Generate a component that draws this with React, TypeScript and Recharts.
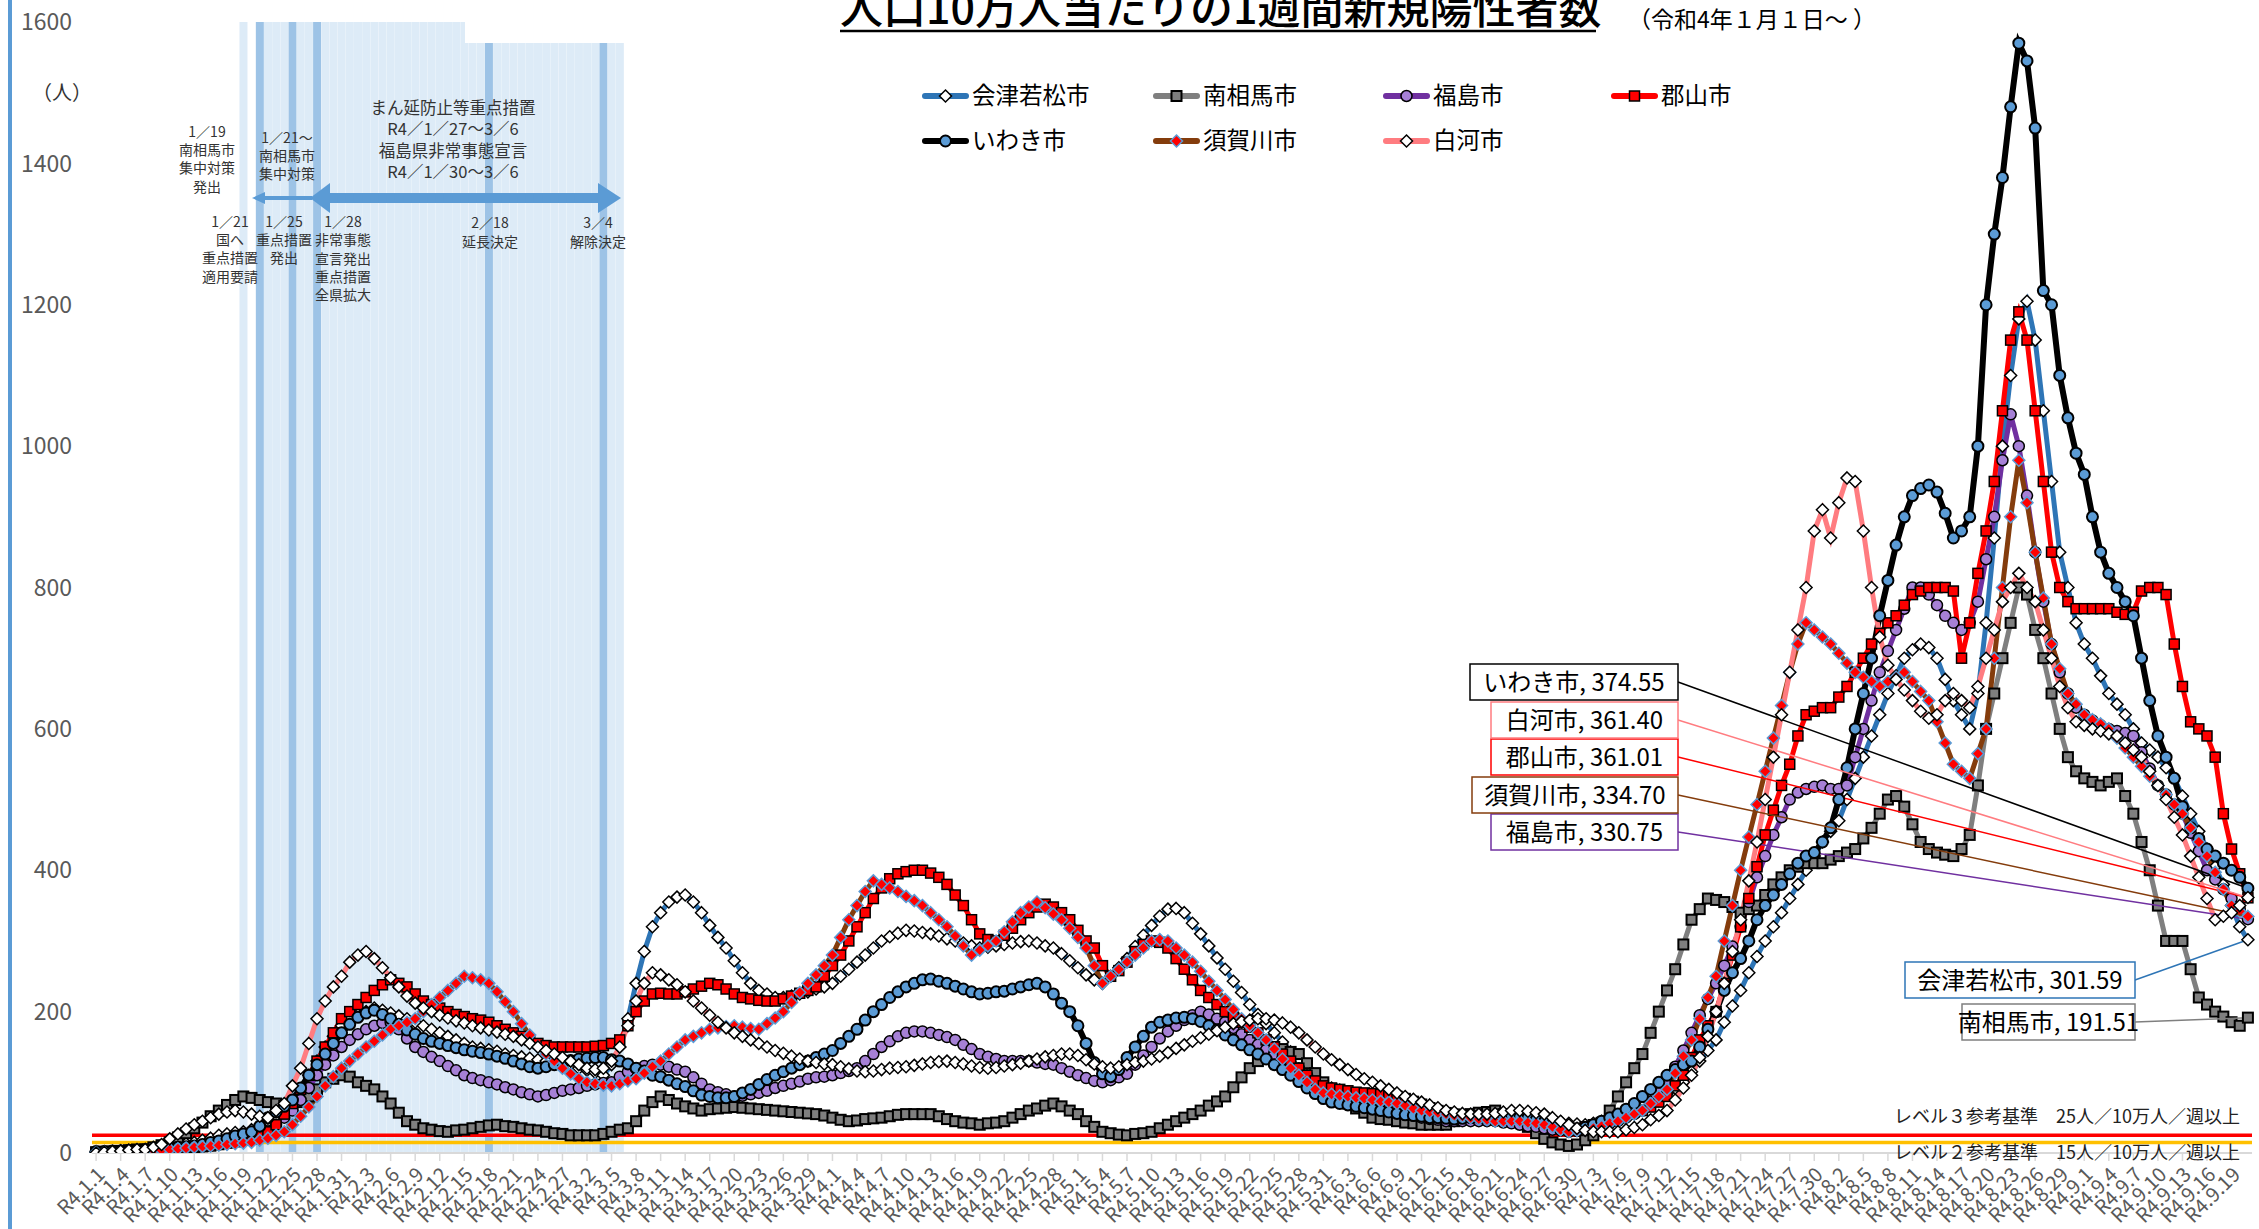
import React from "react";
import { ComposedChart, Bar, Cell, Line, XAxis, YAxis, ReferenceLine } from "recharts";

// 日付カテゴリ（R4.1.1 〜 R4.9.21、1日ごと）
const monthLengths = [31, 28, 31, 30, 31, 30, 31, 31, 21];
const dates: string[] = monthLengths.flatMap((n, m) =>
  Array.from({ length: n }, (_, d) => `R4.${m + 1}.${d + 1}`)
);

const yTicks = [0, 200, 400, 600, 800, 1000, 1200, 1400, 1600];

// 人口10万人当たりの1週間新規陽性者数（月ごとに改行）
const aizu = [
  2, 2, 2, 3, 3, 4, 5, 6, 7, 8, 10, 13, 15, 18, 21, 25, 27, 29, 30, 33, 36, 40, 50, 60, 70, 90, 110, 130, 150, 165, 180,
  190, 196, 200, 205, 202, 198, 194, 190, 185, 180, 175, 170, 165, 160, 155, 150, 148, 146, 144, 140, 138, 136, 134, 132, 130, 128, 126, 125,
  120, 117, 114, 110, 125, 150, 190, 240, 285, 320, 340, 355, 362, 365, 355, 340, 322, 305, 290, 272, 255, 240, 230, 225, 220, 220, 222, 225, 228, 232, 235,
  240, 250, 260, 270, 280, 290, 300, 306, 311, 315, 314, 312, 310, 307, 303, 300, 297, 293, 290, 291, 293, 295, 297, 299, 300, 297, 293, 290, 282, 272,
  262, 252, 245, 240, 250, 262, 275, 292, 308, 322, 335, 345, 346, 340, 325, 310, 293, 276, 260, 243, 227, 210, 196, 183, 170, 157, 143, 130, 118, 106, 95,
  92, 89, 86, 83, 80, 77, 75, 72, 70, 66, 62, 58, 55, 54, 53, 51, 50, 50, 50, 50, 50, 50, 51, 51, 50, 48, 47, 45, 44, 42,
  41, 40, 42, 45, 48, 50, 55, 60, 65, 70, 77, 84, 92, 100, 115, 130, 145, 160, 185, 208, 230, 255, 278, 300, 320, 340, 360, 380, 400, 420, 440,
  455, 470, 500, 530, 560, 590, 620, 650, 675, 700, 712, 720, 715, 700, 670, 640, 620, 600, 650, 750, 870, 1000, 1100, 1180, 1205, 1150, 1050, 950, 850, 800, 750,
  720, 700, 675, 650, 635, 620, 600, 580, 570, 560, 545, 530, 505, 480, 455, 430, 405, 380, 350, 320, 301.59,
];

const minamisoma = [
  1, 2, 2, 3, 4, 5, 5, 8, 11, 15, 22, 28, 35, 43, 52, 60, 68, 75, 80, 78, 75, 72, 70, 67, 65, 72, 80, 90, 100, 105, 110,
  108, 100, 95, 90, 80, 70, 57, 45, 40, 35, 33, 31, 30, 32, 33, 35, 37, 39, 40, 38, 37, 35, 33, 32, 30, 28, 27, 25,
  25, 25, 25, 27, 30, 33, 35, 45, 60, 72, 80, 75, 70, 66, 63, 60, 62, 63, 64, 65, 64, 63, 62, 61, 60, 59, 58, 57, 56, 55, 53,
  50, 47, 45, 46, 48, 49, 50, 52, 54, 55, 55, 55, 55, 52, 48, 45, 43, 42, 40, 42, 43, 45, 50, 55, 60, 63, 67, 70, 66, 60,
  55, 45, 37, 30, 28, 26, 25, 27, 28, 30, 35, 40, 45, 50, 55, 60, 67, 73, 80, 93, 107, 120, 130, 140, 150, 147, 143, 140, 127, 113, 100,
  90, 80, 70, 63, 57, 50, 48, 47, 45, 43, 42, 40, 40, 40, 40, 45, 50, 55, 57, 58, 60, 55, 50, 45, 37, 28, 20, 15, 12, 10,
  12, 18, 25, 42, 60, 80, 100, 120, 140, 170, 200, 230, 260, 295, 330, 345, 360, 358, 355, 348, 340, 345, 350, 365, 380, 390, 400, 405, 410, 410, 410,
  415, 420, 425, 430, 445, 460, 480, 500, 505, 490, 465, 440, 430, 425, 422, 420, 430, 450, 520, 600, 650, 700, 750, 800, 790, 740, 700, 650, 600, 560, 540,
  530, 525, 520, 525, 530, 505, 480, 440, 400, 350, 300, 300, 300, 260, 220, 210, 200, 193, 185, 180, 191.51,
];

const fukushima = [
  1, 1, 1, 2, 2, 2, 3, 3, 4, 5, 6, 7, 8, 9, 10, 12, 14, 16, 18, 20, 25, 32, 40, 50, 60, 75, 92, 110, 125, 138, 150,
  160, 168, 175, 180, 184, 185, 175, 162, 150, 143, 136, 130, 123, 117, 110, 106, 103, 100, 97, 93, 90, 86, 83, 80, 82, 85, 88, 90,
  92, 95, 97, 99, 100, 108, 115, 120, 123, 125, 125, 122, 118, 115, 107, 98, 90, 86, 83, 80, 81, 83, 85, 88, 92, 95, 98, 101, 105, 107, 108,
  110, 113, 116, 120, 130, 140, 150, 158, 165, 170, 172, 172, 170, 167, 164, 160, 153, 147, 140, 136, 133, 130, 130, 130, 130, 128, 126, 125, 120, 115,
  110, 106, 102, 100, 103, 107, 112, 125, 138, 150, 162, 172, 180, 188, 195, 200, 196, 190, 185, 177, 168, 160, 153, 146, 140, 133, 127, 120, 110, 100, 90,
  83, 77, 70, 68, 66, 65, 63, 62, 60, 57, 53, 50, 48, 47, 45, 45, 45, 45, 45, 45, 45, 43, 42, 40, 38, 37, 35, 33, 32, 30,
  31, 33, 35, 38, 42, 45, 50, 55, 60, 72, 85, 100, 122, 145, 170, 195, 218, 240, 265, 292, 320, 355, 390, 420, 450, 475, 500, 510, 515, 518, 520,
  515, 515, 520, 560, 600, 640, 680, 710, 740, 770, 800, 800, 790, 775, 760, 750, 740, 750, 780, 840, 900, 980, 1045, 1000, 930, 850, 780, 720, 680, 650, 630,
  620, 612, 605, 600, 597, 594, 590, 567, 544, 520, 507, 493, 480, 453, 427, 400, 387, 373, 360, 345, 330.75,
];

const koriyama = [
  1, 1, 2, 2, 2, 3, 3, 4, 4, 5, 6, 7, 8, 9, 10, 12, 14, 16, 18, 20, 25, 30, 40, 55, 70, 90, 110, 130, 150, 170, 190,
  200, 210, 220, 230, 238, 245, 240, 235, 225, 215, 210, 205, 200, 196, 193, 190, 188, 185, 180, 175, 170, 165, 160, 155, 152, 150, 150, 150,
  150, 150, 151, 152, 155, 160, 180, 200, 215, 225, 226, 225, 225, 228, 232, 236, 240, 238, 232, 225, 220, 218, 216, 215, 215, 218, 222, 226, 230, 235, 250,
  265, 280, 300, 320, 340, 360, 375, 388, 395, 398, 400, 400, 396, 390, 380, 365, 350, 330, 310, 302, 300, 308, 318, 330, 340, 348, 352, 348, 340, 330,
  315, 300, 290, 265, 250, 258, 270, 285, 295, 300, 298, 290, 275, 260, 245, 230, 220, 210, 200, 192, 185, 178, 170, 160, 150, 140, 130, 120, 110, 102, 95,
  92, 90, 88, 86, 85, 84, 83, 82, 80, 77, 73, 69, 64, 60, 57, 55, 53, 52, 51, 50, 50, 50, 50, 50, 50, 48, 45, 42, 38, 35,
  35, 37, 40, 43, 46, 50, 54, 58, 60, 65, 72, 80, 95, 110, 135, 160, 180, 200, 240, 280, 320, 360, 405, 450, 485, 520, 550, 590, 620, 625, 630,
  630, 645, 660, 680, 700, 720, 735, 750, 760, 775, 790, 795, 800, 800, 800, 795, 700, 750, 820, 880, 950, 1050, 1150, 1190, 1150, 1050, 950, 850, 800, 780, 770,
  770, 770, 770, 770, 765, 762, 765, 795, 800, 800, 790, 720, 660, 610, 600, 590, 560, 480, 430, 395, 361.01,
];

const iwaki = [
  2, 2, 3, 3, 4, 4, 5, 5, 6, 7, 8, 9, 10, 12, 15, 17, 20, 24, 27, 30, 38, 50, 58, 66, 75, 92, 110, 125, 140, 155, 170,
  182, 192, 198, 202, 196, 190, 182, 174, 168, 162, 158, 155, 152, 149, 146, 144, 142, 140, 137, 134, 130, 126, 122, 120, 122, 125, 128, 131,
  133, 134, 135, 135, 132, 130, 126, 120, 116, 110, 108, 103, 98, 94, 88, 82, 80, 78, 78, 80, 85, 90, 97, 104, 110, 115, 120, 125, 130, 135, 140,
  145, 155, 165, 175, 188, 200, 210, 220, 228, 235, 240, 245, 246, 243, 240, 236, 232, 228, 225, 226, 228, 229, 232, 235, 238, 240, 235, 225, 212, 200,
  180, 155, 128, 112, 108, 118, 135, 150, 165, 178, 185, 188, 191, 192, 190, 186, 180, 174, 167, 160, 153, 146, 140, 133, 125, 118, 110, 101, 92, 84, 77,
  72, 70, 68, 66, 64, 62, 60, 58, 56, 54, 53, 52, 50, 50, 49, 48, 49, 50, 50, 51, 51, 52, 52, 51, 50, 47, 44, 41, 38, 35,
  34, 36, 40, 45, 50, 55, 62, 70, 80, 90, 100, 110, 118, 125, 130, 150, 175, 200, 230, 255, 275, 300, 330, 350, 365, 380, 395, 410, 420, 425, 440,
  460, 500, 545, 600, 650, 700, 760, 810, 860, 900, 930, 940, 945, 935, 905, 870, 880, 900, 1000, 1200, 1300, 1380, 1480, 1570, 1545, 1450, 1220, 1200, 1100, 1040, 990,
  960, 900, 850, 820, 800, 780, 760, 700, 640, 590, 560, 530, 490, 460, 445, 430, 420, 410, 400, 390, 374.55,
];

const sukagawa = [
  1, 1, 1, 2, 2, 3, 3, 4, 4, 5, 6, 7, 8, 9, 10, 11, 12, 13, 14, 15, 18, 21, 25, 30, 40, 52, 65, 80, 95, 108, 120,
  130, 140, 150, 158, 167, 175, 180, 185, 190, 200, 210, 220, 230, 240, 250, 248, 245, 240, 228, 214, 200, 183, 167, 150, 140, 130, 120, 112,
  105, 100, 98, 96, 95, 98, 102, 105, 113, 122, 130, 140, 150, 160, 165, 170, 175, 177, 179, 180, 178, 176, 175, 183, 191, 200, 213, 227, 240, 252, 265,
  280, 305, 330, 350, 370, 385, 380, 375, 370, 363, 357, 350, 340, 330, 320, 307, 293, 280, 287, 293, 300, 313, 327, 340, 348, 355, 347, 338, 330, 318,
  305, 290, 265, 240, 250, 260, 270, 280, 290, 300, 302, 300, 290, 280, 270, 257, 243, 230, 217, 203, 190, 180, 170, 160, 147, 133, 120, 110, 100, 90, 85,
  83, 81, 80, 78, 77, 75, 73, 72, 70, 67, 63, 60, 58, 57, 55, 53, 52, 50, 48, 47, 45, 45, 45, 45, 43, 42, 40, 37, 33, 30,
  32, 33, 35, 38, 42, 45, 50, 55, 60, 70, 80, 90, 113, 137, 160, 190, 220, 250, 300, 350, 400, 447, 493, 540, 587, 633, 680, 720, 750, 740, 730,
  720, 707, 693, 680, 673, 667, 660, 667, 673, 680, 667, 653, 640, 610, 580, 550, 540, 530, 565, 600, 700, 800, 900, 980, 920, 850, 785, 720, 685, 650, 635,
  620, 613, 607, 600, 587, 573, 560, 547, 533, 520, 507, 493, 480, 460, 440, 420, 397, 373, 350, 342, 334.7,
];

const shirakawa = [
  0, 1, 2, 3, 4, 5, 5, 8, 12, 20, 27, 34, 40, 45, 50, 55, 58, 60, 58, 55, 52, 50, 60, 70, 95, 120, 155, 190, 215, 235, 250,
  270, 280, 285, 275, 262, 248, 235, 222, 212, 205, 200, 195, 191, 187, 184, 180, 177, 174, 171, 168, 165, 160, 155, 150, 145, 140, 135, 130,
  125, 120, 118, 120, 130, 150, 180, 215, 240, 255, 252, 245, 238, 228, 215, 205, 195, 185, 177, 170, 165, 160, 155, 150, 145, 141, 137, 133, 130, 128, 126,
  125, 122, 119, 116, 115, 116, 118, 120, 121, 122, 124, 126, 128, 129, 130, 128, 126, 123, 121, 120, 121, 123, 125, 127, 130, 133, 136, 138, 140, 140,
  138, 132, 126, 122, 120, 122, 125, 128, 130, 133, 137, 142, 148, 153, 158, 163, 168, 173, 178, 183, 186, 188, 190, 190, 188, 184, 178, 170, 160, 150, 140,
  132, 125, 118, 111, 105, 100, 95, 90, 85, 80, 76, 72, 68, 64, 60, 58, 56, 55, 55, 55, 56, 58, 60, 60, 59, 57, 55, 50, 45, 40,
  35, 32, 30, 30, 30, 30, 33, 36, 40, 47, 53, 60, 75, 92, 110, 135, 165, 200, 240, 285, 330, 385, 440, 500, 560, 620, 680, 740, 800, 880, 910,
  870, 920, 955, 950, 880, 800, 730, 690, 670, 655, 640, 625, 615, 620, 640, 650, 640, 630, 660, 700, 740, 780, 800, 820, 800, 780, 740, 700, 660, 630, 610,
  605, 600, 597, 593, 590, 580, 570, 560, 540, 520, 500, 475, 450, 420, 390, 360, 330, 335, 340, 350, 361.4,
];

// まん延防止等重点措置・非常事態宣言の期間と節目の日
const shadePeriods = [
  ["R4.1.19", "R4.1.19"],
  ["R4.1.21", "R4.3.6"],
];
const decisionDays = ["R4.1.21", "R4.1.25", "R4.1.28", "R4.2.18", "R4.3.4"];
const shadeTop = 1600;

const level3 = 25;
const level2 = 15;

type Marker = { shape: "diamond" | "square" | "circle"; size: number; fill: string; stroke: string; sw: number };
type Series = {
  key: string;
  name: string;
  values: number[];
  color: string;
  width: number;
  marker: Marker;
  tag: { x: number; y: number; w: number };
};

const series: Series[] = [
  { key: "aizu", name: "会津若松市", values: aizu, color: "#2E75B6", width: 5,
    marker: { shape: "diamond", size: 12, fill: "#FFFFFF", stroke: "#000000", sw: 1.5 }, tag: { x: 1905, y: 962, w: 230 } },
  { key: "minamisoma", name: "南相馬市", values: minamisoma, color: "#7F7F7F", width: 5,
    marker: { shape: "square", size: 10, fill: "#7F7F7F", stroke: "#000000", sw: 2 }, tag: { x: 1962, y: 1004, w: 173 } },
  { key: "fukushima", name: "福島市", values: fukushima, color: "#7030A0", width: 5,
    marker: { shape: "circle", size: 11, fill: "#A680D6", stroke: "#000000", sw: 1.5 }, tag: { x: 1491, y: 814, w: 187 } },
  { key: "koriyama", name: "郡山市", values: koriyama, color: "#FF0000", width: 5,
    marker: { shape: "square", size: 10, fill: "#FF0000", stroke: "#000000", sw: 1.5 }, tag: { x: 1491, y: 739, w: 187 } },
  { key: "iwaki", name: "いわき市", values: iwaki, color: "#000000", width: 6,
    marker: { shape: "circle", size: 11, fill: "#5B9BD5", stroke: "#000000", sw: 2 }, tag: { x: 1470, y: 664, w: 208 } },
  { key: "sukagawa", name: "須賀川市", values: sukagawa, color: "#843C0C", width: 5,
    marker: { shape: "diamond", size: 12, fill: "#FF0000", stroke: "#5B9BD5", sw: 1.5 }, tag: { x: 1472, y: 777, w: 206 } },
  { key: "shirakawa", name: "白河市", values: shirakawa, color: "#FF7C80", width: 5,
    marker: { shape: "diamond", size: 12, fill: "#FFFFFF", stroke: "#000000", sw: 1.5 }, tag: { x: 1491, y: 702, w: 187 } },
];

const rows = dates.map((date, i) => {
  const shaded = shadePeriods.some(([a, b]) => i >= dates.indexOf(a) && i <= dates.indexOf(b));
  const row: Record<string, any> = { date, shade: shaded ? shadeTop : null, mark: decisionDays.includes(date) };
  series.forEach((s) => (row[s.key] = s.values[i]));
  return row;
});

const FONT = '"Noto Sans CJK JP", "Noto Sans", sans-serif';
const W = 2259;
const H = 1229;
const last = dates.length - 1;

function markerShape(cx: number, cy: number, m: Marker) {
  const r = m.size / 2;
  if (m.shape === "diamond")
    return <path d={`M${cx},${cy - r}L${cx + r},${cy}L${cx},${cy + r}L${cx - r},${cy}Z`} fill={m.fill} stroke={m.stroke} strokeWidth={m.sw} />;
  if (m.shape === "square")
    return <rect x={cx - r} y={cy - r} width={m.size} height={m.size} fill={m.fill} stroke={m.stroke} strokeWidth={m.sw} />;
  return <circle cx={cx} cy={cy} r={r} fill={m.fill} stroke={m.stroke} strokeWidth={m.sw} />;
}

const makeDot = (s: Series) => (p: any) => {
  const { cx, cy, index } = p;
  if (cx == null || cy == null) return <g key={`${s.key}-${index}`} />;
  const t = s.tag;
  const h = 36;
  return (
    <g key={`${s.key}-${index}`}>
      {index === last && (
        <g>
          <line x1={t.x + t.w} y1={t.y + h / 2} x2={cx} y2={cy} stroke={s.color} strokeWidth={1.5} />
          <rect x={t.x} y={t.y} width={t.w} height={h} fill="#FFFFFF" stroke={s.color} strokeWidth={1.5} />
          <text x={t.x + t.w / 2} y={t.y + h / 2} dy="0.36em" textAnchor="middle" fontSize={24} fill="#000" fontFamily={FONT}>
            {`${s.name}, ${s.values[last].toFixed(2)}`}
          </text>
        </g>
      )}
      {markerShape(cx, cy, s.marker)}
    </g>
  );
};

const DateTick = (props: any) => {
  const { x, y, payload } = props;
  const tx = x + 5;
  const ty = y + 8;
  return (
    <text x={tx} y={ty} transform={`rotate(-45, ${tx}, ${ty})`} textAnchor="end" dy="0.35em" fontSize={20} fill="#595959" fontFamily={FONT}>
      {payload.value}
    </text>
  );
};

// 注記（期間・決定日）
const notes: { x: number; y: number[]; lines: string[]; size: number }[] = [
  { x: 207, y: [132, 150, 168, 187], lines: ["1／19", "南相馬市", "集中対策", "発出"], size: 14 },
  { x: 287, y: [138, 156, 174], lines: ["1／21～", "南相馬市", "集中対策"], size: 14 },
  { x: 453, y: [108, 129, 151, 172], lines: ["まん延防止等重点措置", "R4／1／27～3／6", "福島県非常事態宣言", "R4／1／30～3／6"], size: 16.5 },
  { x: 230, y: [222, 240, 258, 277], lines: ["1／21", "国へ", "重点措置", "適用要請"], size: 14 },
  { x: 284, y: [222, 240, 258], lines: ["1／25", "重点措置", "発出"], size: 14 },
  { x: 343, y: [222, 240, 259, 277, 295], lines: ["1／28", "非常事態", "宣言発出", "重点措置", "全県拡大"], size: 14 },
  { x: 490, y: [223, 242], lines: ["2／18", "延長決定"], size: 14 },
  { x: 598, y: [223, 242], lines: ["3／4", "解除決定"], size: 14 },
];

const legendSlots = [
  [922, 96], [1153, 96], [1383, 96], [1611, 96],
  [922, 141], [1153, 141], [1383, 141],
];

function Overlay() {
  const ay = 198;
  return (
    <svg width={W} height={H} style={{ position: "absolute", left: 0, top: 0, pointerEvents: "none" }} fontFamily={FONT}>
      <rect x={8} y={0} width={4} height={H} fill="#5B9BD5" />
      <rect x={465} y={0} width={1495} height={43} fill="#FFFFFF" />
      <text x={840} y={24} fontSize={43} fontWeight={500} fill="#000">人口10万人当たりの1週間新規陽性者数</text>
      <line x1={840} y1={31} x2={1596} y2={31} stroke="#000" strokeWidth={2.5} />
      <text x={1628} y={28} fontSize={23} fill="#000">（令和4年１月１日～ ）</text>
      <text x={62} y={93} dy="0.36em" textAnchor="middle" fontSize={20} fill="#333">（人）</text>

      {series.map((s, i) => {
        const [lx, ly] = legendSlots[i];
        return (
          <g key={s.key}>
            <line x1={lx + 3} y1={ly} x2={lx + 44} y2={ly} stroke={s.color} strokeWidth={6} strokeLinecap="round" />
            {markerShape(lx + 23.5, ly, s.marker)}
            <text x={lx + 50} y={ly} dy="0.36em" fontSize={23.5} fill="#000">{s.name}</text>
          </g>
        );
      })}

      {notes.map((n, i) => (
        <g key={i}>
          {n.lines.map((t, j) => (
            <text key={j} x={n.x} y={n.y[j]} dy="0.36em" textAnchor="middle" fontSize={n.size} fill="#333">{t}</text>
          ))}
        </g>
      ))}

      <line x1={262} y1={ay} x2={312} y2={ay} stroke="#5B9BD5" strokeWidth={4} />
      <path d={`M252,${ay}L265,${ay - 6}L265,${ay + 6}Z`} fill="#5B9BD5" />
      <line x1={325} y1={ay} x2={602} y2={ay} stroke="#5B9BD5" strokeWidth={10} />
      <path d={`M310,${ay}L330,${ay - 15}L330,${ay + 15}Z`} fill="#5B9BD5" />
      <path d={`M621,${ay}L598,${ay - 15}L598,${ay + 15}Z`} fill="#5B9BD5" />

      <text x={2240} y={1117} dy="0.36em" textAnchor="end" fontSize={18} fill="#222">レベル３参考基準　25人／10万人／週以上</text>
      <text x={2240} y={1153} dy="0.36em" textAnchor="end" fontSize={18} fill="#222">レベル２参考基準　15人／10万人／週以上</text>
    </svg>
  );
}

export default function App() {
  return (
    <div style={{ position: "relative", width: W, height: H, overflow: "hidden", background: "#FFFFFF", fontFamily: FONT }}>
      <style>{"html,body{margin:0;padding:0;overflow:hidden;background:#fff}"}</style>
      <ComposedChart width={W} height={H} data={rows} margin={{ top: 22, right: 7, left: 12, bottom: 0 }} barCategoryGap={0.2}>
        <XAxis
          dataKey="date"
          interval={2}
          height={76}
          tick={<DateTick />}
          tickSize={8}
          tickMargin={2}
          axisLine={{ stroke: "#D9D9D9", strokeWidth: 2 }}
          tickLine={{ stroke: "#D9D9D9", strokeWidth: 1.5 }}
        />
        <YAxis
          domain={[0, 1600]}
          ticks={yTicks}
          width={80}
          axisLine={false}
          tickLine={false}
          tickSize={0}
          tickMargin={20}
          tick={{ fontSize: 23, fill: "#595959", fontFamily: FONT }}
          allowDataOverflow
        />
        <Bar dataKey="shade" isAnimationActive={false} fill="#DDEBF7">
          {rows.map((r, i) => (
            <Cell key={i} fill={r.mark ? "#9DC3E6" : "#DDEBF7"} />
          ))}
        </Bar>
        {series.map((s) => (
          <Line
            key={s.key}
            dataKey={s.key}
            name={s.name}
            type="linear"
            stroke={s.color}
            strokeWidth={s.width}
            dot={makeDot(s)}
            activeDot={false}
            isAnimationActive={false}
          />
        ))}
        <ReferenceLine y={level3} stroke="#FF0000" strokeWidth={3.5} />
        <ReferenceLine y={level2} stroke="#FFC000" strokeWidth={3.5} />
      </ComposedChart>
      <Overlay />
    </div>
  );
}
